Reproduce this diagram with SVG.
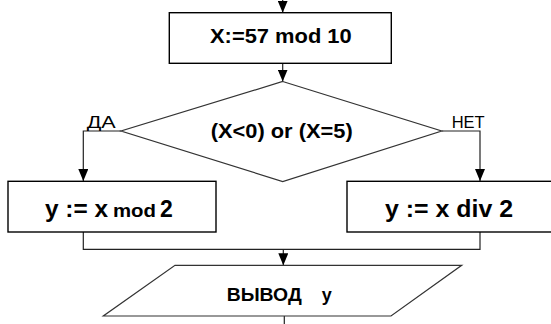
<svg xmlns="http://www.w3.org/2000/svg" width="551" height="324" viewBox="0 0 551 324">
  <style>
    .box { fill: #ffffff; stroke: #000000; stroke-width: 1.4; }
    .con { fill: none; stroke: #222222; stroke-width: 1.2; }
    .t { font-family: "Liberation Sans", Arial, sans-serif; font-weight: bold; fill: #000000; }
    .lbl { font-family: "Liberation Sans", Arial, sans-serif; font-weight: normal; fill: #000000; font-size: 17px; }
  </style>
  <defs>
    <marker id="arr" viewBox="0 0 12 10" refX="12" refY="5" markerWidth="12" markerHeight="10" markerUnits="userSpaceOnUse" orient="auto">
      <path d="M0,0 L12,5 L0,10 z" fill="#000000"/>
    </marker>
  </defs>
  <rect width="551" height="324" fill="#ffffff"/>

  <g id="connectors">
    <path class="con" d="M282.7,0 V12.7" marker-end="url(#arr)"/>
    <path class="con" d="M282.7,63.3 V81.5" marker-end="url(#arr)"/>
    <path class="con" d="M121,131 H83.3 V181" marker-end="url(#arr)"/>
    <path class="con" d="M441.7,131 H480 V181" marker-end="url(#arr)"/>
    <path class="con" d="M83.3,232 V249.3 H480 V232"/>
    <path class="con" d="M283.3,249.3 V265.3" marker-end="url(#arr)"/>
    <path class="con" d="M284.3,316 V324"/>
    <text class="lbl" x="86.7" y="128.3" textLength="29" lengthAdjust="spacingAndGlyphs">ДА</text>
    <text class="lbl" x="451.7" y="127.5" textLength="33" lengthAdjust="spacingAndGlyphs">НЕТ</text>
  </g>

  <g id="assign-x">
    <rect class="box" x="169.3" y="12.7" width="222" height="50.6"/>
    <text class="t" x="210" y="43.3" font-size="21" textLength="141.7" lengthAdjust="spacingAndGlyphs">X:=57 mod 10</text>
  </g>

  <g id="decision">
    <polygon class="con" points="282.7,81.5 441.7,131 282.7,181.5 121,131" style="stroke:#333333"/>
    <text class="t" x="210.7" y="138.3" font-size="20" textLength="142" lengthAdjust="spacingAndGlyphs">(X&lt;0) or (X=5)</text>
  </g>

  <g id="yes-branch">
    <rect class="box" x="8" y="181.3" width="208" height="50.7"/>
    <text class="t" y="216.7" font-size="23"><tspan x="45" textLength="63" lengthAdjust="spacingAndGlyphs">y := x</tspan><tspan x="113" font-size="18" textLength="43" lengthAdjust="spacingAndGlyphs">mod</tspan><tspan x="160">2</tspan></text>
  </g>

  <g id="no-branch">
    <rect class="box" x="347" y="181.3" width="230" height="50.7"/>
    <text class="t" x="385" y="216.7" font-size="23" textLength="128" lengthAdjust="spacingAndGlyphs">y := x div 2</text>
  </g>

  <g id="output">
    <polygon class="con" points="175,265.3 461.7,265.3 391,316 103.3,316" style="stroke:#333333"/>
    <text class="t" y="300.5" font-size="18"><tspan x="226.7" textLength="75" lengthAdjust="spacingAndGlyphs">ВЫВОД</tspan><tspan x="321.7">у</tspan></text>
  </g>
</svg>
